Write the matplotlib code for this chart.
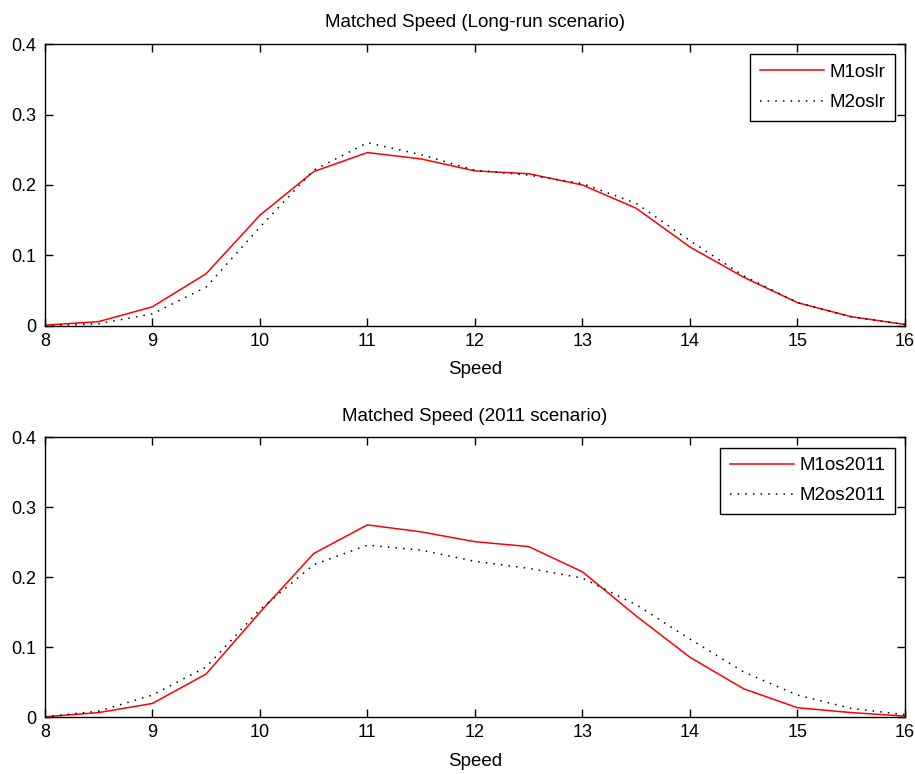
import matplotlib
matplotlib.use("Agg")
import matplotlib.pyplot as plt

plt.rcParams['font.family'] = ['Liberation Sans', 'DejaVu Sans']

speed = [8, 8.5, 9, 9.5, 10, 10.5, 11, 11.5, 12, 12.5, 13, 13.5, 14, 14.5, 15, 15.5, 16]

m1oslr = [0.001, 0.006, 0.027, 0.074, 0.157, 0.219, 0.246, 0.237, 0.220, 0.216, 0.200,
          0.167, 0.112, 0.069, 0.033, 0.013, 0.002]
m2oslr = [0.000, 0.003, 0.017, 0.055, 0.140, 0.221, 0.260, 0.243, 0.221, 0.214, 0.202,
          0.174, 0.121, 0.071, 0.033, 0.013, 0.002]

m1os2011 = [0.001, 0.007, 0.020, 0.062, 0.150, 0.234, 0.275, 0.265, 0.251, 0.244, 0.208,
            0.145, 0.086, 0.041, 0.014, 0.007, 0.002]
m2os2011 = [0.001, 0.009, 0.032, 0.072, 0.154, 0.218, 0.246, 0.239, 0.223, 0.213, 0.199,
            0.161, 0.112, 0.065, 0.032, 0.013, 0.004]

xticks = [8, 9, 10, 11, 12, 13, 14, 15, 16]
yticks = [0, 0.1, 0.2, 0.3, 0.4]
yticklabels = ['0', '0.1', '0.2', '0.3', '0.4']

fig = plt.figure(figsize=(9.15, 7.74), dpi=100)
ax1 = fig.add_axes([0.049, 0.579, 0.940, 0.364])
ax2 = fig.add_axes([0.049, 0.073, 0.940, 0.362])

panels = [
    (ax1, m1oslr, m2oslr, 'M1oslr', 'M2oslr', 'Matched Speed (Long-run scenario)'),
    (ax2, m1os2011, m2os2011, 'M1os2011', 'M2os2011', 'Matched Speed (2011 scenario)'),
]

for ax, a, b, la, lb, title in panels:
    ax.plot(speed, a, color='red', lw=1.1, label=la)
    ax.plot(speed, b, color='black', lw=1.1, linestyle=(0, (1, 4)), label=lb)
    ax.set_xlim(8, 16)
    ax.set_ylim(0, 0.4)
    ax.set_xticks(xticks)
    ax.set_yticks(yticks)
    ax.set_yticklabels(yticklabels)
    ax.tick_params(direction='in', top=True, right=True, length=6, labelsize=13, width=1.0)
    ax.tick_params(axis='y', pad=6)
    ax.tick_params(axis='x', pad=5)
    for s in ax.spines.values():
        s.set_linewidth(1.0)
    ax.set_xlabel('Speed', fontsize=13.5, labelpad=8)
    ax.set_title(title, fontsize=13.5, pad=12)
    leg = ax.legend(loc='upper right', fontsize=13.5, fancybox=False, edgecolor='black',
                    framealpha=1, handlelength=3.4, handletextpad=0.3,
                    labelspacing=0.7, borderpad=0.5, borderaxespad=0.55)
    leg.get_frame().set_linewidth(1.0)

fig.savefig('out.png', dpi=100)
